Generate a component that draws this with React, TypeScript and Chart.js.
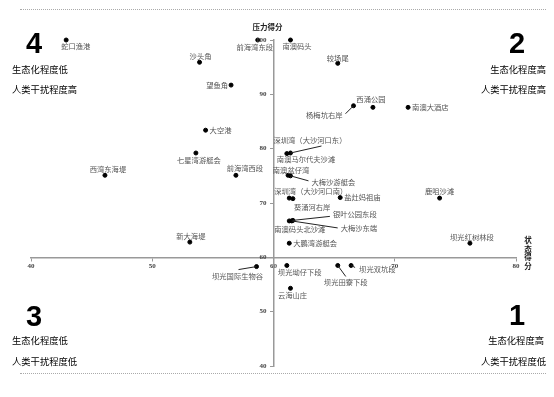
import React, { useEffect, useRef } from "react";
import { Chart, registerables } from "chart.js";

Chart.register(...registerables);

// ---- data ----
const siteNames = [
  "蛇口渔港", "前海湾东段", "南澳码头", "沙头角", "较场尾", "望鱼角",
  "杨梅坑右岸", "西涌公园", "南澳大酒店", "大空港", "七星湾游艇会",
  "深圳湾（大沙河口东）", "南澳马尔代夫沙滩", "前海湾西段", "西湾东海堤",
  "南澳盆仔湾", "大梅沙游艇会", "深圳湾（大沙河口南）", "葵涌河右岸",
  "盐灶妈祖庙", "鹿咀沙滩", "银叶公园东段", "大梅沙东端", "南澳码头北沙滩",
  "大鹏湾游艇会", "新大海堤", "坝光红树林段", "坝光国际生物谷",
  "坝光坳仔下段", "坝光田寮下段", "坝光双坑段", "云海山庄",
];
// 状态得分 (x)
const stateScores = [
  42.9, 58.7, 61.4, 53.9, 65.3, 56.5,
  66.6, 68.2, 71.1, 54.4, 53.6,
  61.4, 61.1, 56.9, 46.1,
  61.2, 61.4, 61.3, 61.6,
  65.5, 73.7, 61.6, 61.5, 61.3,
  61.3, 53.1, 76.2, 58.6,
  61.1, 65.3, 66.4, 61.4,
];
// 压力得分 (y)
const pressureScores = [
  100, 100, 100, 95.9, 95.7, 91.7,
  87.9, 87.6, 87.6, 83.4, 79.2,
  79.2, 79.1, 75.1, 75.1,
  75.1, 75.0, 70.9, 70.8,
  71.0, 70.9, 66.8, 66.7, 66.7,
  62.6, 62.8, 62.6, 58.3,
  58.5, 58.5, 58.5, 54.3,
];
const xTickValues = [40, 50, 60, 70, 80];
const yTickValues = [40, 50, 60, 70, 80, 90, 100];
const xAxisTitle = "状态得分";
const yAxisTitle = "压力得分";

// ---- label placement (pixel offsets from each point) ----
type Place = { dx: number; dy: number; align: CanvasTextAlign; lx?: number; ly?: number };
const labelPlaces: Place[] = [
  { dx: -5, dy: 6, align: "left" },
  { dx: -3, dy: 7, align: "center" },
  { dx: -8, dy: 6, align: "left" },
  { dx: 1, dy: -6, align: "center" },
  { dx: 0, dy: -5, align: "center" },
  { dx: -3, dy: 0, align: "right" },
  { dx: -11, dy: 9, align: "right", lx: -8, ly: 8 },
  { dx: -2, dy: -8, align: "center" },
  { dx: 4, dy: 0, align: "left" },
  { dx: 4, dy: 0, align: "left" },
  { dx: 3, dy: 7.5, align: "center" },
  { dx: -17, dy: -13, align: "left", lx: 31, ly: -7 },
  { dx: -10, dy: 6, align: "left" },
  { dx: 9, dy: -7, align: "center" },
  { dx: 3, dy: -6, align: "center" },
  { dx: 3, dy: -5.5, align: "center" },
  { dx: 21, dy: 6, align: "left", lx: 18, ly: 5 },
  { dx: -15, dy: -7, align: "left" },
  { dx: 1, dy: 8.5, align: "left" },
  { dx: 4, dy: 0, align: "left" },
  { dx: 0, dy: -7, align: "center" },
  { dx: 40, dy: -6, align: "left", lx: 37, ly: -4 },
  { dx: 49, dy: 7, align: "left", lx: 46, ly: 7 },
  { dx: -15, dy: 8, align: "left" },
  { dx: 4, dy: 0, align: "left" },
  { dx: 1, dy: -6, align: "center" },
  { dx: 2, dy: -6, align: "center" },
  { dx: -19, dy: 9.5, align: "center", lx: -18, ly: 3 },
  { dx: -9, dy: 7, align: "left" },
  { dx: 8, dy: 17, align: "center", lx: 8, ly: 11 },
  { dx: 8, dy: 4, align: "left", lx: 4, ly: 2 },
  { dx: 2, dy: 7, align: "center" },
];

const CJK = '"Noto Sans CJK SC", "Noto Sans", sans-serif';
const TICKFONT = 'bold 7px "Liberation Serif", serif';

const labelPlugin = {
  id: "pointLabels",
  afterDraw(chart: any) {
    const ctx = chart.ctx;
    const meta = chart.getDatasetMeta(0);
    const xs = chart.scales.x;
    const ys = chart.scales.y;
    ctx.save();
    // y tick labels, drawn left of the centred axis
    ctx.font = TICKFONT;
    ctx.fillStyle = "#444";
    ctx.textAlign = "right";
    ctx.textBaseline = "middle";
    const axisX = xs.getPixelForValue(60);
    yTickValues.forEach((v) => {
      ctx.fillText(String(v), axisX - 7, ys.getPixelForValue(v));
    });

    ctx.font = `7.3px ${CJK}`;
    ctx.textBaseline = "middle";
    meta.data.forEach((pt: any, i: number) => {
      const p = labelPlaces[i];
      if (!p) return;
      if (p.lx !== undefined) {
        ctx.strokeStyle = "#222";
        ctx.lineWidth = 1;
        ctx.beginPath();
        ctx.moveTo(pt.x, pt.y);
        ctx.lineTo(pt.x + p.lx, pt.y + (p.ly as number));
        ctx.stroke();
      }
      ctx.fillStyle = "#555";
      ctx.textAlign = p.align;
      ctx.fillText(siteNames[i], pt.x + p.dx, pt.y + p.dy);
    });
    // axis titles
    ctx.fillStyle = "#222";
    ctx.font = `bold 7.5px ${CJK}`;
    ctx.textAlign = "center";
    ctx.fillText(yAxisTitle, axisX - 6, chart.chartArea.top - 13);
    const chars = Array.from(xAxisTitle);
    const baseY = ys.getPixelForValue(60) - 17;
    chars.forEach((c, k) => {
      ctx.fillText(c, chart.chartArea.right + 12, baseY + k * 8.6);
    });
    ctx.restore();
  },
};

export default function App() {
  const ref = useRef<HTMLCanvasElement>(null);
  useEffect(() => {
    if (!ref.current) return;
    const chart = new Chart(ref.current, {
      type: "scatter",
      data: {
        datasets: [
          {
            data: stateScores.map((x, i) => ({ x, y: pressureScores[i] })),
            backgroundColor: "#000",
            borderColor: "#000",
            pointRadius: 2,
            pointHoverRadius: 2,
            clip: false as any,
          },
        ],
      },
      options: {
        animation: false,
        responsive: false,
        layout: { padding: { left: 31, right: 38, top: 40, bottom: 31 } },
        plugins: { legend: { display: false }, tooltip: { enabled: false } },
        scales: {
          x: {
            type: "linear",
            min: 40,
            max: 80,
            position: { y: 60 } as any,
            afterBuildTicks: (s: any) => {
              s.ticks = xTickValues.map((v) => ({ value: v }));
            },
            ticks: {
              font: { family: '"Liberation Serif", serif', size: 7, weight: "bold" },
              color: "#444",
              padding: 2,
            },
            grid: { drawOnChartArea: false, tickLength: 3, color: "#999" },
            border: { color: "#999", width: 1.5 },
          },
          y: {
            type: "linear",
            min: 40,
            max: 100,
            position: { x: 60 } as any,
            afterBuildTicks: (s: any) => {
              s.ticks = yTickValues.map((v) => ({ value: v }));
            },
            ticks: {
              font: { family: '"Liberation Serif", serif', size: 7, weight: "bold" },
              color: "rgba(0,0,0,0)",
              padding: 4,
            },
            grid: { drawOnChartArea: false, tickLength: 3, color: "#999" },
            border: { color: "#999", width: 1.5 },
          },
        },
      },
      plugins: [labelPlugin],
    });
    return () => chart.destroy();
  }, []);

  const corner: React.CSSProperties = {
    position: "absolute",
    fontFamily: CJK,
    fontSize: "9.3px",
    color: "#000",
    whiteSpace: "nowrap",
    lineHeight: 1,
  };
  const big: React.CSSProperties = {
    position: "absolute",
    fontFamily: '"Liberation Sans", Arial, sans-serif',
    fontWeight: "bold",
    fontSize: "29px",
    lineHeight: 1,
    color: "#000",
  };
  const dotted: React.CSSProperties = {
    position: "absolute",
    left: 20,
    width: 526,
    height: 0,
    borderTop: "1px dotted #aaa",
  };

  return (
    <div style={{ position: "absolute", left: 0, top: 0, width: 554, height: 397, background: "#fff", overflow: "hidden" }}>
      <canvas ref={ref} width={554} height={397} style={{ position: "absolute", left: 0, top: 0 }} />
      <div style={{ ...dotted, top: 9 }} />
      <div style={{ ...dotted, top: 373 }} />

      <div style={{ ...big, left: 26, top: 29 }}>4</div>
      <div style={{ ...corner, left: 12, top: 65 }}>生态化程度低</div>
      <div style={{ ...corner, left: 12, top: 85 }}>人类干扰程度高</div>

      <div style={{ ...big, left: 509, top: 29 }}>2</div>
      <div style={{ ...corner, right: 8, top: 65 }}>生态化程度高</div>
      <div style={{ ...corner, right: 8, top: 85 }}>人类干扰程度高</div>

      <div style={{ ...big, left: 26, top: 302 }}>3</div>
      <div style={{ ...corner, left: 12, top: 336 }}>生态化程度低</div>
      <div style={{ ...corner, left: 12, top: 357 }}>人类干扰程度低</div>

      <div style={{ ...big, left: 509, top: 301 }}>1</div>
      <div style={{ ...corner, right: 10, top: 336 }}>生态化程度高</div>
      <div style={{ ...corner, right: 8, top: 357 }}>人类干扰程度低</div>
    </div>
  );
}
